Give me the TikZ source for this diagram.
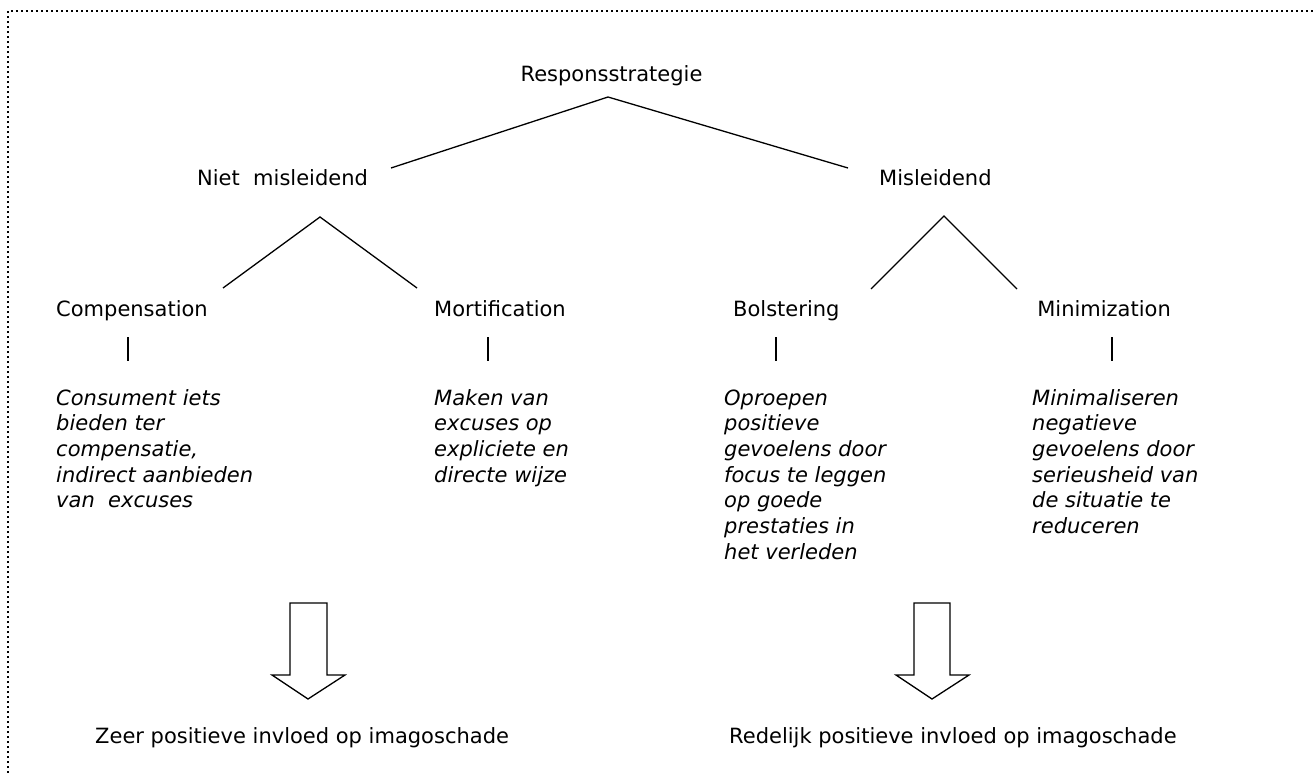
\documentclass[tikz,border=0pt]{standalone}
\usepackage{fontspec}
\setmainfont{DejaVu Sans}
\begin{document}
\begin{tikzpicture}[x=1pt,y=-1pt,
  label/.style={inner sep=0pt, font=\fontsize{21}{25.7}\selectfont},
  desc/.style={anchor=base west, inner sep=0pt, font=\fontsize{21}{25.7}\selectfont\itshape},
  branch/.style={line width=1.3pt},
  tick/.style={line width=1.3pt},
  blockarrow/.style={line width=1.3pt, line join=miter},
  frame/.style={line width=1.6pt, dash pattern=on 1.6pt off 3.4pt}]
\useasboundingbox (0,0) rectangle (1316,773);

% dotted frame (open to the right and bottom)
\coordinate (fl) at (8,773);
\coordinate (fc) at (8,11);
\coordinate (fr) at (1316,11);
\draw[frame] (fl) -- (fc) -- (fr);

% headings
\node[label, anchor=base] (root) at (611.5,82) {Responsstrategie};
\node[label, anchor=base west] (nm) at (197,185) {Niet\ \ misleidend};
\node[label, anchor=base west] (ml) at (879,185) {Misleidend};

\node[label, anchor=base west] (comp) at (56,316) {Compensation};
\node[label, anchor=base west] (mort) at (434,316) {Mortification};
\node[label, anchor=base west] (bols) at (733,316) {Bolstering};
\node[label, anchor=base east] (mini) at (1171,316) {Minimization};

% branch points
\coordinate (r0) at (608,97);
\coordinate (rL) at (391,168);
\coordinate (rR) at (848,168);
\coordinate (a0) at (320,217);
\coordinate (aL) at (223,288);
\coordinate (aR) at (417,288);
\coordinate (b0) at (944,216);
\coordinate (bL) at (871,289);
\coordinate (bR) at (1017,289);

\draw[branch] (rL) -- (r0) -- (rR);
\draw[branch] (aL) -- (a0) -- (aR);
\draw[branch] (bL) -- (b0) -- (bR);

% short ticks under each strategy
\foreach \n/\x in {t1/128, t2/488, t3/776, t4/1112} {
  \coordinate (\n a) at (\x,337);
  \coordinate (\n b) at (\x,361);
  \draw[tick] (\n a) -- (\n b);
}

% descriptions
\node[desc] (dcomp) at (56,405) {\vtop{\hbox{Consument iets}\hbox{bieden ter}\hbox{compensatie,}\hbox{indirect aanbieden}\hbox{van\ \ excuses}}};
\node[desc] (dmort) at (434,405) {\vtop{\hbox{Maken van}\hbox{excuses op}\hbox{expliciete en}\hbox{directe wijze}}};
\node[desc] (dbols) at (724,405) {\vtop{\hbox{Oproepen}\hbox{positieve}\hbox{gevoelens door}\hbox{focus te leggen}\hbox{op goede}\hbox{prestaties in}\hbox{het verleden}}};
\node[desc] (dmini) at (1032,405) {\vtop{\hbox{Minimaliseren}\hbox{negatieve}\hbox{gevoelens door}\hbox{serieusheid van}\hbox{de situatie te}\hbox{reduceren}}};

% block arrows
\draw[blockarrow] (290,603) -- (327,603) -- (327,675) -- (345,675) -- (308,699)
  -- (272,675) -- (290,675) -- cycle;
\draw[blockarrow] (914,603) -- (950,603) -- (950,675) -- (969,675) -- (932,699)
  -- (896,675) -- (914,675) -- cycle;

% outcomes
\node[label, anchor=base west] (outL) at (95,743) {Zeer positieve invloed op imagoschade};
\node[label, anchor=base west] (outR) at (729,743) {Redelijk positieve invloed op imagoschade};
\end{tikzpicture}
\end{document}
